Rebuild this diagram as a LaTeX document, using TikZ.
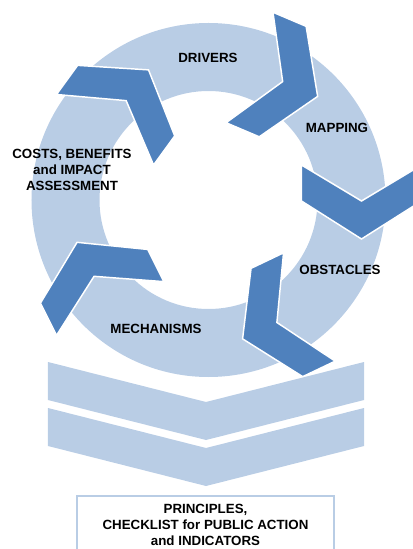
\documentclass[tikz,border=0pt]{standalone}
\usepackage{fontspec}
\setmainfont{Liberation Sans}
\usetikzlibrary{positioning}
\definecolor{ringblue}{RGB}{185,205,229}
\definecolor{arrowblue}{RGB}{79,129,189}

\begin{document}
\begin{tikzpicture}[x=0.75pt,y=0.75pt,
    label text/.style={font=\bfseries\fontsize{10}{11.8}\selectfont, align=center, text=black},
    turn/.style={fill=arrowblue, draw=white, line width=1.1pt},
    band/.style={fill=ringblue}]
  \useasboundingbox (-208.5,-349) rectangle (204.5,200);
  \clip (-208.5,-349) rectangle (204.5,200);
  % Ring
  \fill[ringblue, even odd rule] (0,0) circle[radius=177] (0,0) circle[radius=109];
  % Chevrons on the ring: angle / mid radius / back edge
  \foreach \a/\u/\b in {67/138/-14, 0/153/-35, -64.5/140/-45, -153.4/136.5/-53, 144/125/-4}
    \draw[turn, rotate=\a-90] (\b,\u+60) -- ++(36,0) -- (\b+74,\u) -- (\b+36,\u-60) -- ++(-36,0) -- (\b+36,\u) -- cycle;
  % Stage labels
  \node[label text] (drivers) at (-0.5,142) {DRIVERS};
  \node[label text] (mapping) at (128.5,72) {MAPPING};
  \node[label text] (costs) at (-136.5,30) {COSTS, BENEFITS\\and IMPACT\\ASSESSMENT};
  \node[label text] (obstacles) at (131.5,-70) {OBSTACLES};
  \node[label text] (mechanisms) at (-52.5,-129) {MECHANISMS};
  % Two bands pointing down
  \foreach \d in {0,46}
    \fill[band] (-160.5,-162-\d) -- (-2.5,-202-\d) -- (155.5,-162-\d) -- (155.5,-200-\d) -- (-2.5,-240-\d) -- (-160.5,-200-\d) -- cycle;
  % Result box
  \draw[draw=ringblue, line width=1.5pt, fill=white] (-131.5,-296) rectangle (125.5,-370);
  \node[label text] (principles) at (-3,-325) {PRINCIPLES,\\CHECKLIST for PUBLIC ACTION\\and INDICATORS};
\end{tikzpicture}
\end{document}
